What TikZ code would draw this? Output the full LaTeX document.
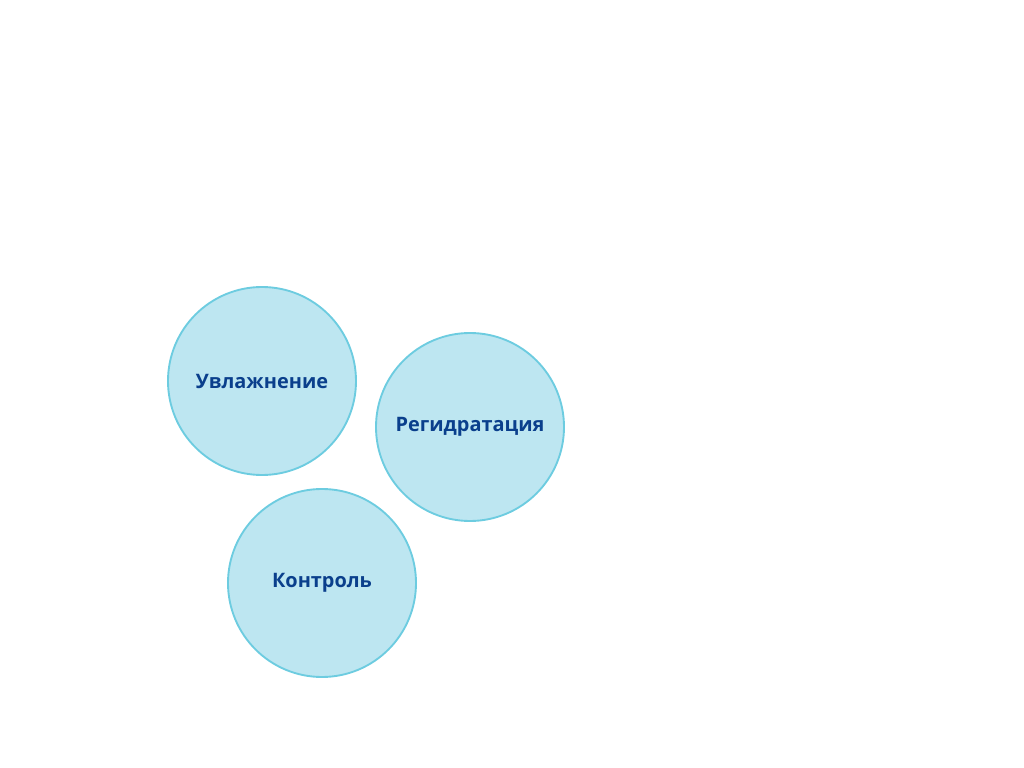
\documentclass[tikz,border=0pt]{standalone}
\usepackage{fontspec}
\setmainfont{Open Sans}
\usepackage{tikz}
\usetikzlibrary{positioning}

\definecolor{bubblefill}{HTML}{BDE6F1}
\definecolor{bubbleline}{HTML}{6DCCE0}
\definecolor{bubbletext}{HTML}{0A3F8C}

\tikzset{
	bubble/.style={circle, draw=bubbleline, fill=bubblefill, line width=1.6pt,
		minimum size=5.64cm, inner sep=0pt, text=bubbletext,
		font=\fontsize{17}{21}\selectfont\bfseries}
}

\begin{document}
\begin{tikzpicture}[x=0.03cm, y=-0.03cm]
		\useasboundingbox (0,0) rectangle (1024,768);
		
		% three bubbles
		\node[bubble] (moist) at (262,381) {Увлажнение};
		\node[bubble] (rehyd) at (470,427) {Регидратация};
		\node[bubble] (ctrl) at (322,583) {Контроль};
	\end{tikzpicture}
\end{document}
